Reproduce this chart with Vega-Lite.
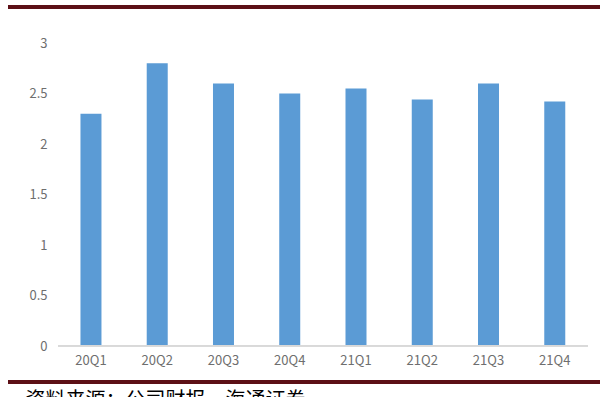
{
  "$schema": "https://vega.github.io/schema/vega-lite/v6.json",
  "autosize": {"type": "none"},
  "width": 592,
  "height": 303,
  "padding": {"left": 8, "top": 43, "right": 0, "bottom": 51},
  "background": "white",
  "config": {"view": {"stroke": null}},
  "title": {
    "text": "资料来源：公司财报，海通证券",
    "orient": "bottom",
    "anchor": "start",
    "dx": 19,
    "offset": 8,
    "font": "Noto Sans CJK SC",
    "fontSize": 20,
    "fontWeight": "normal",
    "color": "#000000",
    "baseline": "top"
  },
  "data": {
    "values": [
      {"quarter": "20Q1", "value": 2.3},
      {"quarter": "20Q2", "value": 2.8},
      {"quarter": "20Q3", "value": 2.6},
      {"quarter": "20Q4", "value": 2.5},
      {"quarter": "21Q1", "value": 2.55},
      {"quarter": "21Q2", "value": 2.44},
      {"quarter": "21Q3", "value": 2.6},
      {"quarter": "21Q4", "value": 2.42}
    ]
  },
  "layer": [
    {
      "mark": {"type": "bar", "color": "#5B9BD5"},
      "encoding": {
        "x": {
          "field": "quarter",
          "type": "nominal",
          "sort": null,
          "scale": {"paddingInner": 0.683, "paddingOuter": 0.809, "align": 0.676},
          "axis": {
            "title": null,
            "domain": false,
            "ticks": false,
            "tickSize": 0,
            "labelPadding": 8,
            "labelAngle": 0,
            "labelFont": "Noto Sans CJK SC",
            "labelFontSize": 13,
            "labelColor": "#6e6e6e"
          }
        },
        "y": {
          "field": "value",
          "type": "quantitative",
          "scale": {"domain": [0, 3]},
          "axis": {
            "title": null,
            "values": [0, 0.5, 1, 1.5, 2, 2.5, 3],
            "format": "~g",
            "grid": false,
            "domain": false,
            "ticks": false,
            "tickSize": 0,
            "offset": -50,
            "labelPadding": 11,
            "labelFont": "Noto Sans CJK SC",
            "labelFontSize": 13,
            "labelColor": "#6e6e6e"
          }
        }
      }
    },
    {
      "mark": {"type": "rule", "color": "#d9d9d9", "strokeWidth": 1},
      "encoding": {
        "x": {"datum": "20Q1", "type": "nominal", "bandPosition": -1.071},
        "x2": {"datum": "21Q4", "bandPosition": 2.083},
        "y": {"datum": 0, "type": "quantitative"}
      }
    },
    {
      "mark": {"type": "rule", "color": "#5c1016", "strokeWidth": 3},
      "encoding": {
        "y": {"datum": 3.356, "type": "quantitative"}
      }
    },
    {
      "mark": {"type": "rule", "color": "#5c1016", "strokeWidth": 3},
      "encoding": {
        "y": {"datum": -0.356, "type": "quantitative"}
      }
    }
  ]
}
